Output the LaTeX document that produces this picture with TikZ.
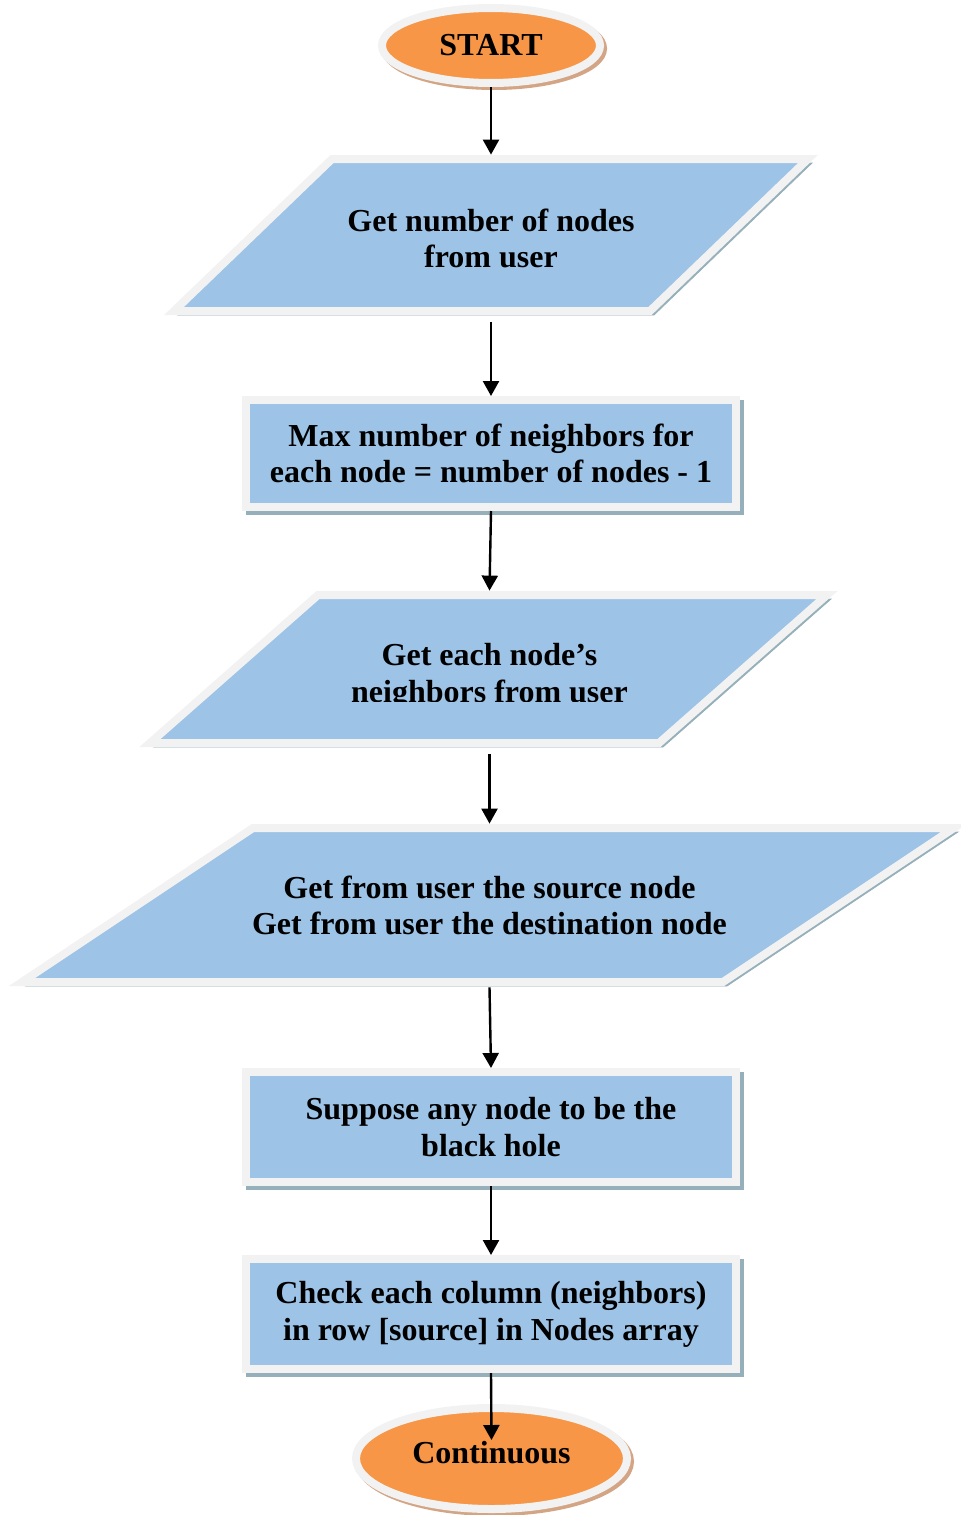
\documentclass[tikz,border=0pt]{standalone}
\usepackage{fontspec}
\setmainfont{Liberation Serif}
\usetikzlibrary{arrows.meta,shapes.geometric,shadows}

\definecolor{boxblue}{RGB}{157,195,230}
\definecolor{ringgrey}{RGB}{242,242,242}
\definecolor{boxshadow}{RGB}{149,176,186}
\definecolor{termorange}{RGB}{247,150,70}
\definecolor{termshadow}{RGB}{212,165,132}

\tikzset{
  txt/.style={font=\bfseries\fontsize{16}{18.4}\selectfont,align=center,inner sep=0pt},
  boxshade/.style={drop shadow={shadow xshift=2pt,shadow yshift=-2pt,opacity=1,fill=boxshadow,draw=boxshadow}},
  flow/.style={-{Triangle[length=7.5pt,width=8pt]},line width=1.2pt},
  procbox/.style={txt,rectangle,draw=ringgrey,line width=4pt,fill=boxblue,boxshade,minimum width=245pt},
  iobox/.style={draw=ringgrey,line width=4pt,fill=boxblue,boxshade},
  iotext/.style={txt,minimum height=#1},
  terminal/.style={txt,ellipse,draw=ringgrey,line width=4pt,fill=termorange,
    drop shadow={shadow xshift=1.5pt,shadow yshift=-1.5pt,opacity=1,fill=termshadow,draw=termshadow}}
}

\begin{document}
\begin{tikzpicture}[x=0.5pt,y=-0.5pt]
  \useasboundingbox (0,0) rectangle (961,1515);

  % input parallelograms
  \draw[iobox] (332,159) -- (808,159) -- (650,311) -- (174,311) -- cycle;
  \draw[iobox] (318,595) -- (827,595) -- (659,743) -- (150,743) -- cycle;
  \draw[iobox] (253,828) -- (954,828) -- (723,982) -- (22,982) -- cycle;

  \node[terminal,minimum width=109pt,minimum height=37.5pt] (start) at (491,45.5) {START};
  \node[iotext=83.5pt] (nodes) at (491,238.5) {Get number of nodes\\from user};
  \node[procbox,minimum height=53.5pt] (maxnb) at (491,453.5) {Max number of neighbors for\\each node = number of nodes - 1};
  \begin{scope}
    \clip (0,0) rectangle (961,701);
    \node[iotext=81.5pt,text depth=0pt] (neigh) at (489.5,672.5) {Get each node’s\\neighbors from user};
  \end{scope}
  \node[iotext=81.5pt] (srcdst) at (489.5,905.5) {Get from user the source node\\Get from user the destination node};
  \node[procbox,minimum height=55pt] (bhole) at (491,1127) {Suppose any node to be the\\black hole};
  \node[procbox,minimum height=55pt] (check) at (491,1314) {Check each column (neighbors)\\in row [source] in Nodes array};
  \node[terminal,minimum width=135.5pt,minimum height=50.5pt,text depth=6pt] (cont) at (491.5,1458.5) {Continuous};

  \draw[flow] (start.south) -- (nodes.north);
  \draw[flow] (nodes.south) -- (maxnb.north);
  \draw[flow] (maxnb.south) -- (neigh.north);
  \draw[flow] (neigh.south) -- (srcdst.north);
  \draw[flow] (srcdst.south) -- (bhole.north);
  \draw[flow] (bhole.south) -- (check.north);
  \draw[flow] (check.south) -- ([yshift=-18pt]cont.north);
\end{tikzpicture}
\end{document}
